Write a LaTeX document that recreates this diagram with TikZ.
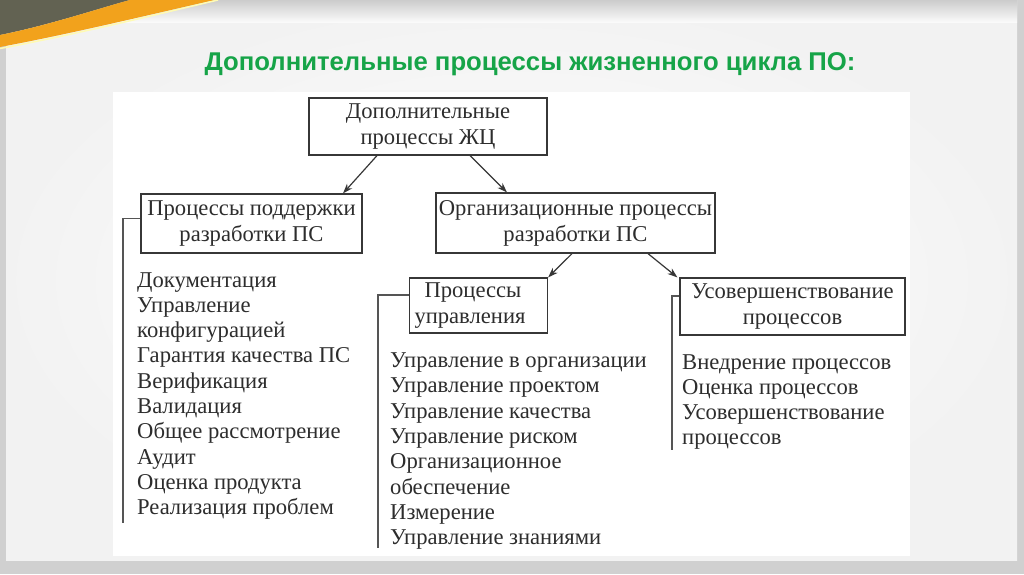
\documentclass[tikz,border=0pt]{standalone}
\usepackage{fontspec}
\setmainfont{Liberation Serif}
\newfontfamily\titlefont{Liberation Sans}
\usetikzlibrary{arrows.meta}
\definecolor{titlegreen}{RGB}{22,164,72}
\definecolor{cornerdark}{RGB}{98,98,82}
\definecolor{bandorange}{RGB}{242,162,28}
\definecolor{framegray}{RGB}{208,208,208}
\definecolor{linegray}{RGB}{55,55,55}
\definecolor{textgray}{RGB}{45,45,45}
\newcommand{\boxfont}{\fontsize{22.6}{26}\selectfont}
\tikzset{
  procbox/.style={draw=linegray, line width=1.2pt, fill=white, align=center, inner sep=0pt, font=\boxfont, text=textgray},
  listitem/.style={anchor=base west, inner sep=0pt, font=\boxfont, text=textgray},
  arr/.style={draw=linegray, line width=1.2pt, -{Stealth[length=10pt,width=7pt]}},
  brack/.style={draw=linegray!85, line width=1.3pt},
}

\begin{document}
\begin{tikzpicture}[x=1pt,y=-1pt]
\def\dy{25.3}

%slide background
\useasboundingbox (0,0) rectangle (1024,574);
\fill[framegray] (0,0) rectangle (1024,574);
\shade[inner color=white, outer color=gray!10] (6,0) rectangle (1017,560);
\shade[top color=gray!40, bottom color=gray!4] (6,0) rectangle (1017,22);

%corner band
\fill[cornerdark] (0,0) -- (130,0) .. controls (100,8) and (50,25) .. (0,35) -- cycle;
\fill[bandorange] (130,0) .. controls (100,8) and (50,25) .. (0,35) -- (0,47) .. controls (80,32) and (160,12) .. (215,0) -- cycle;
\draw[white!70!yellow, line width=1.5pt] (0,48.5) .. controls (80,33.5) and (160,13.5) .. (218,0);

%white panel
\fill[white] (113,92) rectangle (910,556);

%title
\node[anchor=base, font=\titlefont\bfseries\fontsize{25.7}{30}\selectfont, text=titlegreen] (title) at (530,70) {Дополнительные процессы жизненного цикла ПО:};

%boxes
\node[procbox, minimum width=238, minimum height=57] (top) at (428,126.5) {Дополнительные\\процессы ЖЦ};
\node[procbox, minimum width=221, minimum height=59] (sup) at (251.5,223.5) {Процессы поддержки\\разработки ПС};
\node[procbox, minimum width=279, minimum height=60] (org) at (575.5,223) {Организационные процессы\\разработки ПС};
\node[procbox, align=left, text width=128pt, minimum width=138, minimum height=55] (mgmt) at (478.5,305.5) {\hspace*{10pt}Процессы\\управления};
\node[procbox, minimum width=225, minimum height=57] (imp) at (792.5,306.5) {Усовершенствование\\процессов};

%arrows
\draw[arr] ([xshift=-51]top.south) -- ([xshift=91.5]sup.north);
\draw[arr] ([xshift=42]top.south) -- ([xshift=-68.5]org.north);
\draw[arr] ([xshift=-3.5]org.south) -- (mgmt.north east);
\draw[arr] ([xshift=72.5]org.south) -- ([xshift=-2]imp.north west);

%list brackets
\coordinate (supend) at (123,523);
\coordinate (mgmtend) at (378,548);
\coordinate (impend) at (672,450);
\draw[brack] ([yshift=5]sup.west) -| (supend);
\draw[brack] ([yshift=10.5]mgmt.west) -| (mgmtend);
\draw[brack] ([yshift=10.5]imp.west) -| (impend);

%lists
\foreach \t [count=\i] in {Документация, Управление, конфигурацией, Гарантия качества ПС, Верификация, Валидация, Общее рассмотрение, Аудит, Оценка продукта, Реализация проблем}
  \node[listitem] (supitem\i) at (137,{287+\dy*(\i-1)}) {\t};
\foreach \t [count=\i] in {Управление в организации, Управление проектом, Управление качества, Управление риском, Организационное, обеспечение, Измерение, Управление знаниями}
  \node[listitem] (mgmtitem\i) at (390,{367.5+\dy*(\i-1)}) {\t};
\foreach \t [count=\i] in {Внедрение процессов, Оценка процессов, Усовершенствование, процессов}
  \node[listitem] (impitem\i) at (682,{369+25*(\i-1)}) {\t};

\end{tikzpicture}
\end{document}
